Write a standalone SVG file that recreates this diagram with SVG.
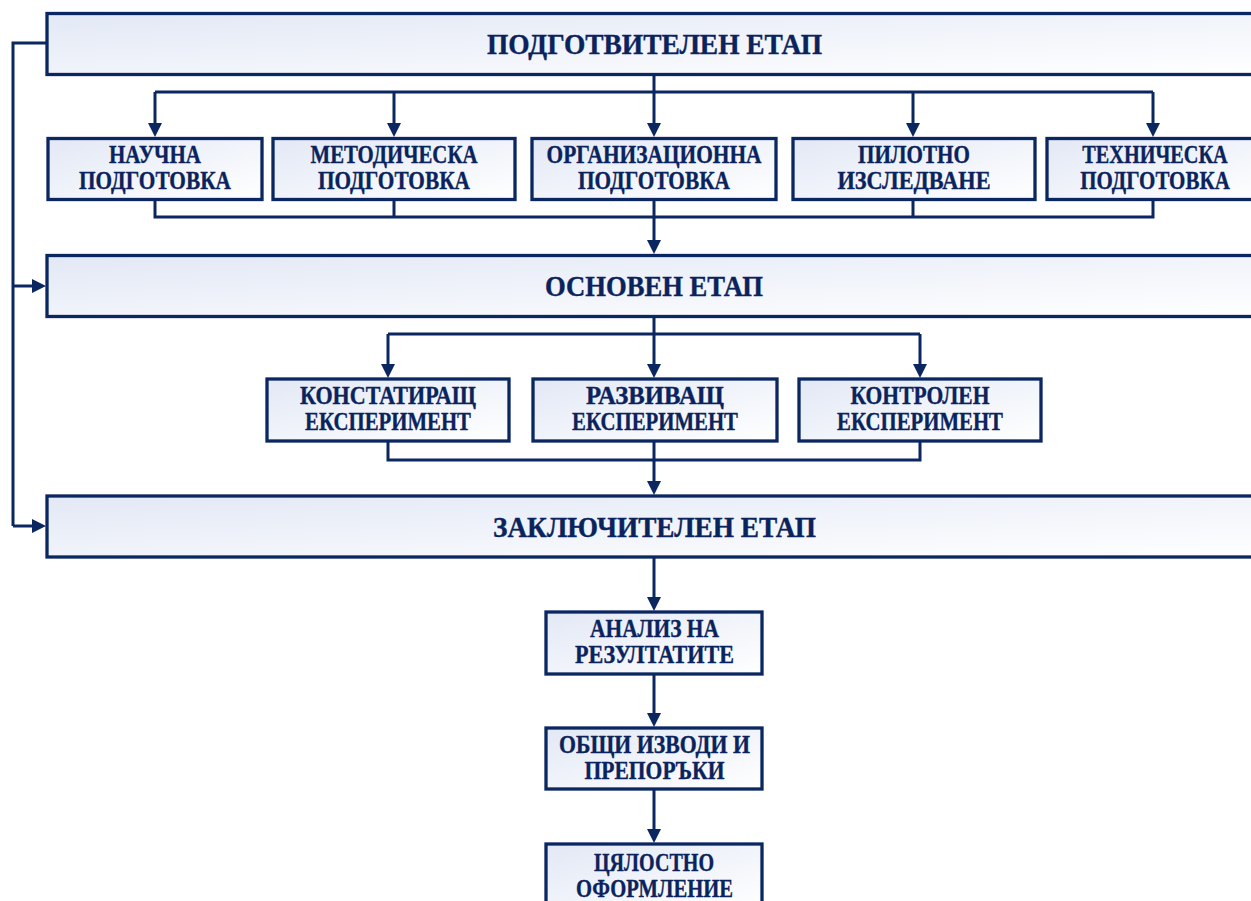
<svg xmlns="http://www.w3.org/2000/svg" width="1251" height="901" viewBox="0 0 1251 901">
<defs>
<linearGradient id="fillGrad" x1="0" y1="0" x2="1" y2="1">
<stop offset="0" stop-color="#e2e8f5"/>
<stop offset="1" stop-color="#ffffff"/>
</linearGradient>
<marker id="arrow" markerUnits="userSpaceOnUse" markerWidth="14" markerHeight="14" viewBox="0 0 14 14" refX="10" refY="7" orient="auto">
<path d="M0,0 L14,7 L0,14 z" fill="#0b2762"/>
</marker>
<style>
.box{fill:url(#fillGrad);stroke:#0b2762;stroke-width:3.3;}
.conn{fill:none;stroke:#0b2762;stroke-width:3;stroke-linejoin:miter;}
.arr{marker-end:url(#arrow);}
.h{font-family:"Liberation Serif","DejaVu Serif",serif;font-weight:bold;font-size:30px;fill:#0a235d;stroke:#0a235d;stroke-width:0.4;text-anchor:middle;}
.t{font-family:"Liberation Serif","DejaVu Serif",serif;font-weight:bold;font-size:25px;fill:#0a235d;stroke:#0a235d;stroke-width:0.35;text-anchor:middle;}
</style>
</defs>
<rect width="1251" height="901" fill="#ffffff"/>

<g id="connectors">
<path class="conn" d="M654,75 V92 M155,92 H1153"/>
<path class="conn arr" d="M155,92 V133"/>
<path class="conn arr" d="M394,92 V133"/>
<path class="conn arr" d="M654,92 V133"/>
<path class="conn arr" d="M913,92 V133"/>
<path class="conn arr" d="M1153,92 V133"/>
<path class="conn" d="M155,200 V217 H1153 V200 M394,200 V217 M913,200 V217"/>
<path class="conn arr" d="M654,200 V250"/>
<path class="conn" d="M654,317 V334 M388,334 H920"/>
<path class="conn arr" d="M388,334 V374"/>
<path class="conn arr" d="M654,334 V374"/>
<path class="conn arr" d="M920,334 V374"/>
<path class="conn" d="M388,442 V460 H920 V442"/>
<path class="conn arr" d="M654,442 V491"/>
<path class="conn arr" d="M654,557 V607"/>
<path class="conn arr" d="M654,675 V723"/>
<path class="conn arr" d="M654,790 V839"/>
<path class="conn" d="M47,43 H13 V526"/>
<path class="conn arr" d="M13,526 H42"/>
<path class="conn arr" d="M13,286 H42"/>
</g>

<g id="stage1">
<rect class="box" x="47" y="13.5" width="1215" height="61"/>
<text class="h" x="654.5" y="53.5" textLength="335" lengthAdjust="spacingAndGlyphs">ПОДГОТВИТЕЛЕН ЕТАП</text>
</g>
<g id="n-nauchna">
<rect class="box" x="48" y="138.5" width="214" height="61"/>
<text class="t" x="155" y="163" textLength="92" lengthAdjust="spacingAndGlyphs">НАУЧНА</text>
<text class="t" x="155" y="189" textLength="152" lengthAdjust="spacingAndGlyphs">ПОДГОТОВКА</text>
</g>
<g id="n-metod">
<rect class="box" x="273" y="138.5" width="242" height="61"/>
<text class="t" x="394" y="163" textLength="167" lengthAdjust="spacingAndGlyphs">МЕТОДИЧЕСКА</text>
<text class="t" x="394" y="189" textLength="152" lengthAdjust="spacingAndGlyphs">ПОДГОТОВКА</text>
</g>
<g id="n-org">
<rect class="box" x="532" y="138.5" width="244" height="61"/>
<text class="t" x="654" y="163" textLength="215" lengthAdjust="spacingAndGlyphs">ОРГАНИЗАЦИОННА</text>
<text class="t" x="654" y="189" textLength="152" lengthAdjust="spacingAndGlyphs">ПОДГОТОВКА</text>
</g>
<g id="n-pilot">
<rect class="box" x="793" y="138.5" width="242" height="61"/>
<text class="t" x="914" y="163" textLength="112" lengthAdjust="spacingAndGlyphs">ПИЛОТНО</text>
<text class="t" x="914" y="189" textLength="153" lengthAdjust="spacingAndGlyphs">ИЗСЛЕДВАНЕ</text>
</g>
<g id="n-tech">
<rect class="box" x="1047" y="138.5" width="217" height="61"/>
<text class="t" transform="translate(1155,163) scale(0.81,1)" x="0" y="0">ТЕХНИЧЕСКА</text>
<text class="t" transform="translate(1155,189) scale(0.84,1)" x="0" y="0">ПОДГОТОВКА</text>
</g>

<g id="stage2">
<rect class="box" x="47" y="255.5" width="1215" height="61"/>
<text class="h" x="654" y="295.5" textLength="218" lengthAdjust="spacingAndGlyphs">ОСНОВЕН ЕТАП</text>
</g>
<g id="n-konst">
<rect class="box" x="267" y="379" width="242" height="62"/>
<text class="t" x="388" y="404" textLength="176" lengthAdjust="spacingAndGlyphs">КОНСТАТИРАЩ</text>
<text class="t" x="388" y="430" textLength="166" lengthAdjust="spacingAndGlyphs">ЕКСПЕРИМЕНТ</text>
</g>
<g id="n-razv">
<rect class="box" x="533" y="379" width="244" height="62"/>
<text class="t" x="655" y="404" textLength="138" lengthAdjust="spacingAndGlyphs">РАЗВИВАЩ</text>
<text class="t" x="655" y="430" textLength="166" lengthAdjust="spacingAndGlyphs">ЕКСПЕРИМЕНТ</text>
</g>
<g id="n-kontr">
<rect class="box" x="799" y="379" width="242" height="62"/>
<text class="t" x="920" y="404" textLength="139" lengthAdjust="spacingAndGlyphs">КОНТРОЛЕН</text>
<text class="t" x="920" y="430" textLength="166" lengthAdjust="spacingAndGlyphs">ЕКСПЕРИМЕНТ</text>
</g>

<g id="stage3">
<rect class="box" x="47" y="496" width="1215" height="61"/>
<text class="h" x="654.5" y="536.5" textLength="323" lengthAdjust="spacingAndGlyphs">ЗАКЛЮЧИТЕЛЕН ЕТАП</text>
</g>
<g id="n-analiz">
<rect class="box" x="546" y="612" width="216" height="62"/>
<text class="t" x="654.5" y="637" textLength="129" lengthAdjust="spacingAndGlyphs">АНАЛИЗ НА</text>
<text class="t" x="654.5" y="663" textLength="159" lengthAdjust="spacingAndGlyphs">РЕЗУЛТАТИТЕ</text>
</g>
<g id="n-izvodi">
<rect class="box" x="546" y="728" width="216" height="61"/>
<text class="t" x="654.5" y="753" textLength="191" lengthAdjust="spacingAndGlyphs">ОБЩИ ИЗВОДИ И</text>
<text class="t" x="654.5" y="779" textLength="140" lengthAdjust="spacingAndGlyphs">ПРЕПОРЪКИ</text>
</g>
<g id="n-oform">
<rect class="box" x="546" y="844" width="216" height="66"/>
<text class="t" x="654" y="871" textLength="120" lengthAdjust="spacingAndGlyphs">ЦЯЛОСТНО</text>
<text class="t" x="654.5" y="897" textLength="157" lengthAdjust="spacingAndGlyphs">ОФОРМЛЕНИЕ</text>
</g>
</svg>
